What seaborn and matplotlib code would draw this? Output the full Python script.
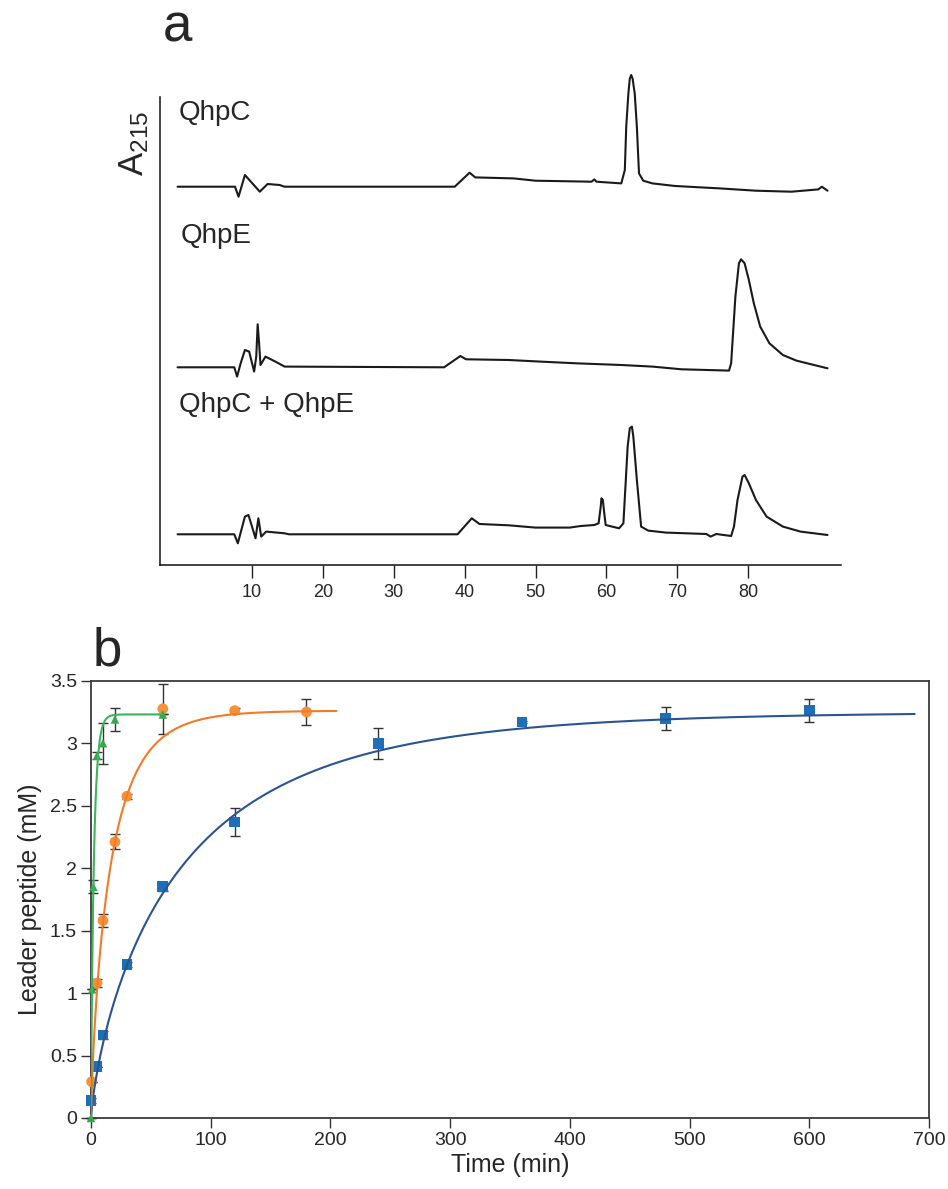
import numpy as np
import pandas as pd
import matplotlib
matplotlib.use("Agg")
import matplotlib.pyplot as plt
import seaborn as sns

# ---------------- panel a: HPLC traces (time in min, height above baseline)
qhpc_t = [-0.5, 7.6, 8.1, 9.0, 11.1, 12.2, 13.9, 14.6, 38.6, 40.7, 41.5, 46.9, 50.0,
          57.9, 58.3, 58.6, 62.1, 62.6, 62.8, 63.1, 63.3, 63.5, 63.7, 64.0, 64.3, 64.6,
          65.2, 66.5, 69.7, 76.0, 81.1, 86.1, 89.9, 90.4, 91.2]
qhpc_h = [0, 0, -10, 11.7, -5, 2.7, 1.7, 0, 0, 14, 9.3, 8.3, 6,
          5, 7.3, 5, 3.3, 16.7, 60, 93, 108, 111.7, 108, 93, 60, 13.3,
          6, 3.3, 0.7, -1.7, -4, -5, -2.7, 0, -4]

qhpe_t = [-0.5, 7.5, 7.9, 8.4, 9.0, 9.6, 10.3, 10.6, 10.8, 11.0, 11.2, 11.9, 13.3,
          14.6, 37.1, 39.4, 40.2, 46.2, 50.7, 55.7, 62.1, 66.5, 70.6, 77.3, 77.6, 78.2,
          78.7, 79.0, 79.5, 80.1, 80.8, 81.7, 83.0, 84.9, 86.8, 89.3, 91.2]
qhpe_h = [0, 0, -9.3, 4, 17.3, 15.7, -4.3, 10.7, 43, 24, 2.3, 10.7, 5.7,
          0.7, 0, 11.3, 8, 7.3, 5.7, 4, 2.3, 0.7, -2, -3.3, 4, 70.7,
          104, 108, 104, 87.3, 64, 40.7, 24, 12.3, 6.7, 2.3, -1]

mix_t = [-0.5, 7.5, 8.0, 9.0, 9.5, 10.0, 10.5, 10.9, 11.3, 12.0, 14.6, 15.2, 39.0,
         41.0, 42.1, 46.2, 50.0, 54.8, 56.4, 58.3, 58.9, 59.2, 59.3, 59.5, 59.7, 59.9,
         60.8, 61.8, 62.4, 63.0, 63.3, 63.6, 63.8, 64.3, 64.9, 65.9, 68.4, 74.1, 74.7,
         75.5, 77.6, 78.0, 78.5, 79.2, 79.5, 80.1, 81.1, 82.6, 84.9, 87.4, 91.2]
mix_h = [0, 0, -9, 17.7, 19.3, 7.7, -4, 16, -2.3, 2.7, 1, 0, 0,
         16, 10.3, 9, 6.7, 6.7, 8.3, 9.3, 11, 27.7, 36, 34.3, 21, 9.3,
         7.7, 6, 11, 87.7, 106, 107.7, 97.7, 54.3, 7.7, 3.7, 1.7, 0.3, -2.3,
         0.3, -1.7, 7.7, 34.3, 57.7, 59.3, 51, 34.3, 17.7, 7.7, 2.7, -0.7]

trace_names = ["QhpC", "QhpE", "QhpC + QhpE"]
trace_ticks = [10, 20, 30, 40, 50, 60, 70, 80]

# ---------------- panel b: leader peptide release
blue_t = [0, 5, 10, 30, 60, 120, 240, 360, 480, 600]
blue_y = [0.14, 0.41, 0.665, 1.23, 1.85, 2.37, 3.0, 3.17, 3.2, 3.26]
blue_err = [0.02, 0.0, 0.03, 0.02, 0.03, 0.112, 0.124, 0.01, 0.093, 0.092]

orange_t = [0.5, 5, 10, 20, 30, 60, 120, 180]
orange_y = [0.29, 1.08, 1.58, 2.21, 2.575, 3.275, 3.26, 3.25]
orange_err = [0.0, 0.03, 0.05, 0.06, 0.02, 0.2, 0.02, 0.104]

green_t = [0, 1, 2, 5, 10, 20, 60]
green_y = [0.0, 1.03, 1.85, 2.9, 3.0, 3.19, 3.23]
green_err = [0.0, 0.0, 0.053, 0.03, 0.163, 0.094, 0.0]

# fit parameters (plateau, rate, stretch) and fit range
blue_fit = (3.25, 0.0126, 0.77, 688)
orange_fit = (3.26, 0.0585, 0.8, 205)
green_fit = (3.23, 0.42, 0.9, 60)

W, H = 948, 1189
sns.set_style("ticks")
plt.rcParams['font.family'] = ['Liberation Sans', 'DejaVu Sans']
plt.rcParams['mathtext.default'] = 'regular'

fig = plt.figure(figsize=(W / 100, H / 100), dpi=100)

# ======== panel a
ax1 = fig.add_axes([160 / W, 1 - 565 / H, (841 - 160) / W, (565 - 97) / H])
baselines = [378.3, 197.7, 30.7]
traces = [(qhpc_t, qhpc_h), (qhpe_t, qhpe_h), (mix_t, mix_h)]
for (tt, hh), base in zip(traces, baselines):
    df = pd.DataFrame({"t": tt, "a": np.array(hh) + base})
    sns.lineplot(data=df, x="t", y="a", sort=False, estimator=None,
                 color="#1a1a1a", lw=1.5, ax=ax1, clip_on=False)
ax1.set_xlim(-2.98, 93.1)
ax1.set_ylim(0, 468)
ax1.set_xticks(trace_ticks)
ax1.set_yticks([])
ax1.set_xlabel("")
ax1.set_ylabel("")
ax1.tick_params(axis='x', direction='out', length=9.5, width=1, color='#222',
                labelsize=13, pad=4)
for s in ["top", "right"]:
    ax1.spines[s].set_visible(False)
for s in ["left", "bottom"]:
    ax1.spines[s].set_color('#111')
    ax1.spines[s].set_linewidth(1.1)

label_pos = [(179, 120), (181, 243), (179, 412)]
for name, (px, py) in zip(trace_names, label_pos):
    fig.text(px / W, 1 - py / H, name, fontsize=20, va='baseline', ha='left')
fig.text(134 / W, 1 - 176 / H, r'A$_{215}$', fontsize=25, rotation=90,
         ha='center', va='bottom')
fig.text(163 / W, 1 - 42 / H, "a", fontsize=38, va='baseline')

# ======== panel b
ax2 = fig.add_axes([91 / W, 1 - 1118 / H, (929 - 91) / W, (1118 - 680.7) / H])


def fit_curve(params):
    a, k, h, tend = params
    t = np.linspace(0, tend, 600)
    return t, a * (1 - np.exp(-(k * t) ** h))


series = [
    (blue_t, blue_y, blue_err, blue_fit, '#2b5391', '#1f6fb6', 's', 60),
    (orange_t, orange_y, orange_err, orange_fit, '#f27a28', '#f6913a', 'o', 60),
    (green_t, green_y, green_err, green_fit, '#3cb45a', '#34a84f', '^', 38),
]
for tt, yy, ee, fp, lc, mc, mk, ms in series:
    ax2.errorbar(tt, yy, yerr=ee, fmt='none', ecolor='#333', elinewidth=1,
                 capsize=3.5, capthick=1, zorder=2, clip_on=False)
    sns.scatterplot(x=tt, y=yy, marker=mk, s=ms, color=mc, edgecolor='none',
                    ax=ax2, zorder=3, clip_on=False)
    ft, fy = fit_curve(fp)
    sns.lineplot(x=ft, y=fy, color=lc, lw=1.5, ax=ax2, zorder=4,
                 estimator=None, sort=False)

ax2.set_xlim(0, 700)
ax2.set_ylim(0, 3.5)
ax2.set_xticks(range(0, 701, 100))
ax2.set_yticks([0, 0.5, 1, 1.5, 2, 2.5, 3, 3.5])
ax2.set_yticklabels(['0', '0.5', '1', '1.5', '2', '2.5', '3', '3.5'])
ax2.tick_params(direction='out', length=7, width=1, color='#333',
                labelsize=14, pad=3)
for s in ax2.spines.values():
    s.set_color('#3a3a3a')
    s.set_linewidth(1.3)
ax2.set_xlabel("Time (min)", fontsize=18, labelpad=3)
ax2.set_ylabel("Leader peptide (mM)", fontsize=18, labelpad=6)
fig.text(93 / W, 1 - 665 / H, "b", fontsize=38, va='baseline')

fig.savefig("out.png", dpi=100)
